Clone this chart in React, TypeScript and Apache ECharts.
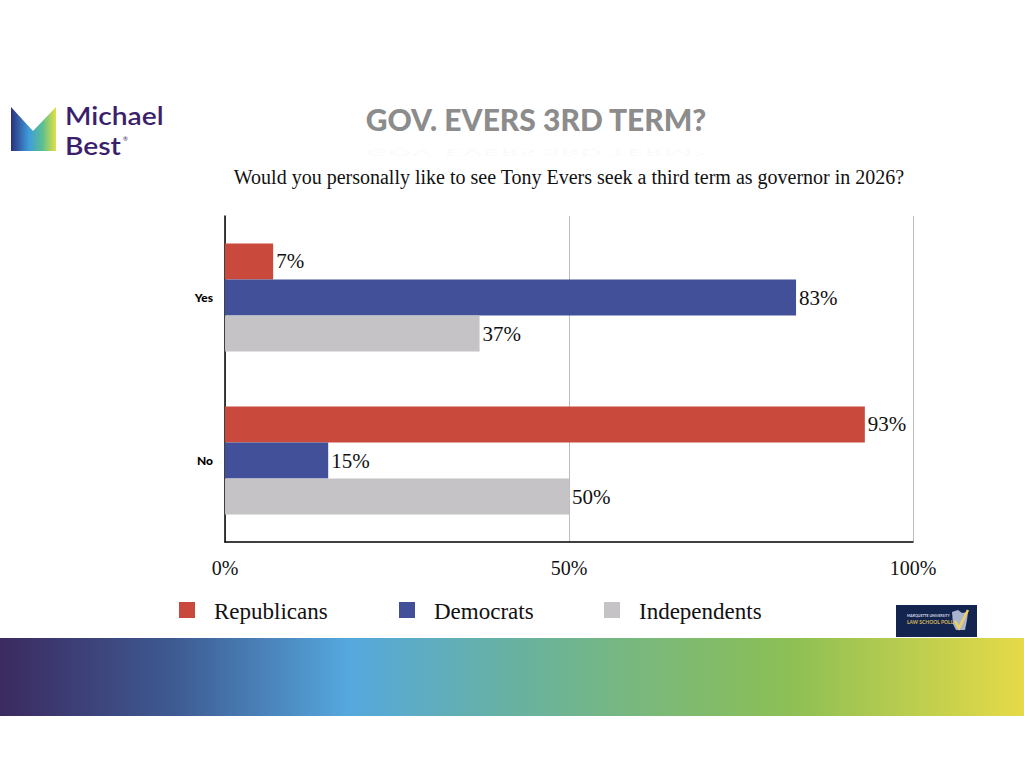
import { useEffect, useRef } from "react";
import * as echarts from "echarts";

const CATEGORIES = ["Yes", "No"];
const SERIES_NAMES = ["Republicans", "Democrats", "Independents"];
const REPUBLICANS = [7, 93];
const DEMOCRATS = [83, 15];
const INDEPENDENTS = [37, 50];
const X_TICKS = [0, 50, 100];

const COLORS = ["#c9493c", "#42509a", "#c5c3c6"];
const SERIF = "'Liberation Serif', 'DejaVu Serif', serif";
const SANS = "Lato, 'Open Sans', sans-serif";

export default function App() {
  const elRef = useRef<HTMLDivElement>(null);

  useEffect(() => {
    document.body.style.margin = "0";
    const el = elRef.current;
    if (!el) return;
    const chart = echarts.init(el, undefined, { renderer: "svg" });

    const values = [REPUBLICANS, DEMOCRATS, INDEPENDENTS];

    chart.setOption({
      animation: false,
      backgroundColor: "#ffffff",
      grid: { left: 225, right: 111, top: 216, bottom: 226 },
      legend: { show: false },
      xAxis: {
        type: "value",
        min: 0,
        max: 100,
        interval: 50,
        axisLine: { show: true, lineStyle: { color: "#000", width: 1.5 } },
        axisTick: { show: false },
        splitLine: { show: true, lineStyle: { color: "#bdbdbd", width: 1 } },
        axisLabel: {
          margin: 16,
          color: "#111",
          fontFamily: SERIF,
          fontSize: 20,
          formatter: (v: number) => (X_TICKS.includes(v) ? `${v}%` : ""),
        },
      },
      yAxis: {
        type: "category",
        data: CATEGORIES,
        inverse: true,
        axisLine: { show: true, lineStyle: { color: "#000", width: 1.5 } },
        axisTick: { show: false },
        axisLabel: {
          margin: 12,
          color: "#000",
          fontFamily: SANS,
          fontWeight: 900,
          fontSize: 12,
        },
      },
      series: SERIES_NAMES.map((name, i) => ({
        name,
        type: "bar",
        data: values[i],
        barGap: "0%",
        barCategoryGap: "33.7%",
        itemStyle: { color: COLORS[i] },
        label: {
          show: true,
          position: "right",
          distance: 3,
          color: "#111",
          fontFamily: SERIF,
          fontSize: 21,
          formatter: (p: { value: number }) => `${p.value}%`,
        },
      })),
      graphic: [
        // top-left logo
        {
          type: "polygon",
          shape: { points: [[11, 107], [33, 131], [56, 107], [56, 151], [11, 151]] },
          style: {
            fill: new echarts.graphic.LinearGradient(0, 0, 1, 0, [
              { offset: 0, color: "#2b2f7c" },
              { offset: 0.4, color: "#3f9ddc" },
              { offset: 0.7, color: "#5cbf8f" },
              { offset: 1, color: "#e4e043" },
            ]),
          },
        },
        {
          type: "text",
          x: 65,
          y: 116,
          scaleX: 1.13,
          style: { text: "Michael", fill: "#3c1f6c", font: `600 25px ${SANS}`, verticalAlign: "middle", lineHeight: 24 },
        },
        {
          type: "text",
          x: 65,
          y: 146,
          scaleX: 1.13,
          style: { text: "Best", fill: "#3c1f6c", font: `600 25px ${SANS}`, verticalAlign: "middle", lineHeight: 24 },
        },
        {
          type: "text",
          x: 123,
          y: 138,
          style: { text: "®", fill: "#3c1f6c", font: `6px ${SANS}`, verticalAlign: "middle", lineHeight: 6 },
        },
        // title and its faint reflection
        {
          type: "text",
          x: 536,
          y: 119,
          style: {
            text: "GOV. EVERS 3RD TERM?",
            fill: "#8c8c8c",
            font: `900 30px ${SANS}`,
            align: "center",
            verticalAlign: "middle",
          },
        },
        {
          type: "text",
          x: 536,
          y: 152,
          scaleY: -0.3,
          style: {
            text: "GOV. EVERS 3RD TERM?",
            fill: "#8c8c8c",
            opacity: 0.035,
            font: `900 30px ${SANS}`,
            align: "center",
            verticalAlign: "middle",
          },
        },
        {
          type: "text",
          x: 569,
          y: 177,
          style: {
            text: "Would you personally like to see Tony Evers seek a third term as governor in 2026?",
            fill: "#111",
            font: `20px ${SERIF}`,
            align: "center",
            verticalAlign: "middle",
          },
        },
        // legend
        ...SERIES_NAMES.flatMap((name, i) => {
          const xs = [179, 399, 604];
          return [
            { type: "rect", shape: { x: xs[i], y: 602, width: 16, height: 16 }, style: { fill: COLORS[i] } },
            {
              type: "text",
              x: xs[i] + 35,
              y: 611,
              style: { text: name, fill: "#111", font: `23px ${SERIF}`, verticalAlign: "middle" },
            },
          ];
        }),
        // bottom gradient band
        {
          type: "rect",
          shape: { x: 0, y: 638, width: 1024, height: 78 },
          style: {
            fill: new echarts.graphic.LinearGradient(0, 0, 1, 0, [
              { offset: 0, color: "#3b2a60" },
              { offset: 0.17, color: "#3e5a92" },
              { offset: 0.34, color: "#55a8de" },
              { offset: 0.48, color: "#65b0a8" },
              { offset: 0.62, color: "#78b87e" },
              { offset: 0.77, color: "#8cbf55" },
              { offset: 1, color: "#e6da48" },
            ]),
          },
        },
        // Marquette Law School Poll badge
        {
          type: "rect",
          shape: { x: 896, y: 605, width: 81, height: 32 },
          style: { fill: "#13254f" },
        },
        {
          type: "text",
          x: 907,
          y: 616,
          style: { text: "MARQUETTE UNIVERSITY", fill: "#d8dce6", font: `bold 3.5px ${SANS}`, verticalAlign: "middle" },
        },
        {
          type: "text",
          x: 907,
          y: 622,
          style: { text: "LAW SCHOOL POLL", fill: "#d7b65a", font: `bold 5px ${SANS}`, verticalAlign: "middle" },
        },
        {
          type: "polygon",
          shape: { points: [[952, 612], [958, 610], [962, 613], [968, 612], [967, 620], [965, 630], [956, 630], [953, 624]] },
          style: { fill: "#a9b4cf" },
        },
        {
          type: "polyline",
          shape: { points: [[955, 621], [959, 628], [968, 610]] },
          style: { stroke: "#f1cf5b", lineWidth: 2.5, fill: "none" },
        },
      ],
    });

    return () => chart.dispose();
  }, []);

  return <div ref={elRef} style={{ width: 1024, height: 768 }} />;
}
